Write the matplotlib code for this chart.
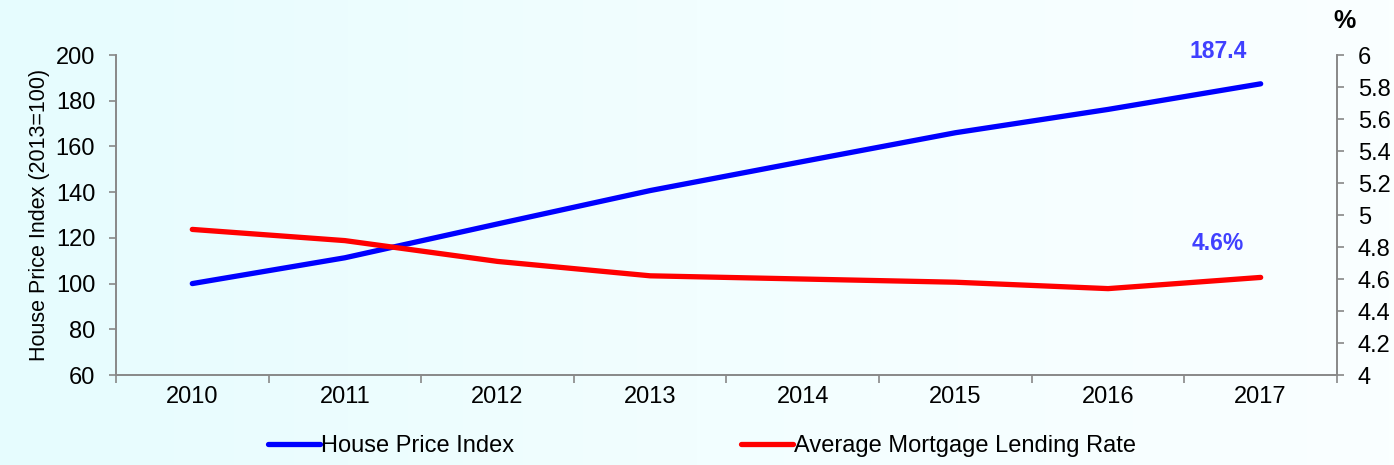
import numpy as np
import matplotlib
matplotlib.use('Agg')
import matplotlib.pyplot as plt
from matplotlib.colors import LinearSegmentedColormap

plt.rcParams['font.family'] = ['Liberation Sans', 'DejaVu Sans']

# data
years = ["2010", "2011", "2012", "2013", "2014", "2015", "2016", "2017"]
house_price_index = [100, 111.3, 126.1, 140.7, 153.4, 166.0, 176.2, 187.4]
mortgage_rate = [4.91, 4.84, 4.71, 4.62, 4.60, 4.58, 4.54, 4.61]

fig = plt.figure(figsize=(13.94, 4.65), dpi=100)

# light cyan background gradient
bg = fig.add_axes([0, 0, 1, 1], zorder=-10)
cmap = LinearSegmentedColormap.from_list("bg", ["#E6FCFE", "#F2FEFF", "#FAFFFF"])
grad = np.linspace(0, 1, 256).reshape(1, -1)
bg.imshow(grad, aspect='auto', cmap=cmap, extent=[0, 1, 0, 1])
bg.axis('off')

ax = fig.add_axes([0.0832, 0.1935, 0.8759, 0.6882])
ax.patch.set_alpha(0)
x = np.arange(len(years))

l1, = ax.plot(x, house_price_index, color="#0000FF", lw=3.8,
              solid_capstyle='round', solid_joinstyle='round', label="House Price Index")
ax.set_xlim(-0.5, len(years) - 0.5)
ax.set_ylim(60, 200)
ax.set_yticks(np.arange(60, 201, 20))
ax.set_xticks(x)
ax.set_xticklabels(years)
ax.set_xticks(np.arange(-0.5, len(years)), minor=True)
ax.tick_params(axis='x', which='major', length=0, pad=8, labelsize=17)
ax.tick_params(axis='x', which='minor', length=6, color="#888888", width=1.2)
ax.tick_params(axis='y', length=5, color="#888888", width=1.2, labelsize=17, pad=10)
ax.set_ylabel("House Price Index (2013=100)", fontsize=15.5, labelpad=4)

ax2 = ax.twinx()
l2, = ax2.plot(x, mortgage_rate, color="#FF0000", lw=3.8,
               solid_capstyle='round', solid_joinstyle='round', label="Average Mortgage Lending Rate")
ax2.set_ylim(4, 6)
ax2.set_yticks(np.arange(4, 6.01, 0.2))
ax2.set_yticklabels([f"{v:g}" for v in np.round(np.arange(4, 6.01, 0.2), 1)])
ax2.tick_params(axis='y', length=5, color="#888888", width=1.2, labelsize=17, pad=10)

for a in (ax, ax2):
    a.spines['top'].set_visible(False)
    for s in ('left', 'right', 'bottom'):
        a.spines[s].set_color("#888888")
        a.spines[s].set_linewidth(1.2)

# annotations
ax.text(x[-1] - 0.28, 196.5, f"{house_price_index[-1]:.1f}", color="#4040FF",
        fontsize=16.5, fontweight='bold', ha='center', va='bottom')
ax2.text(x[-1] - 0.28, 4.75, f"{mortgage_rate[-1]:.1f}%", color="#4040FF",
         fontsize=16.5, fontweight='bold', ha='center', va='bottom')
fig.text(0.9645, 0.93, "%", fontsize=18, fontweight='bold', ha='center', va='bottom')

fig.legend(handles=[l1, l2], loc='center left', bbox_to_anchor=(0.177, 0.04),
           ncol=2, frameon=False, fontsize=17, handlelength=2.2,
           handletextpad=0.05, columnspacing=9.6)

fig.savefig("out.png", dpi=100)
